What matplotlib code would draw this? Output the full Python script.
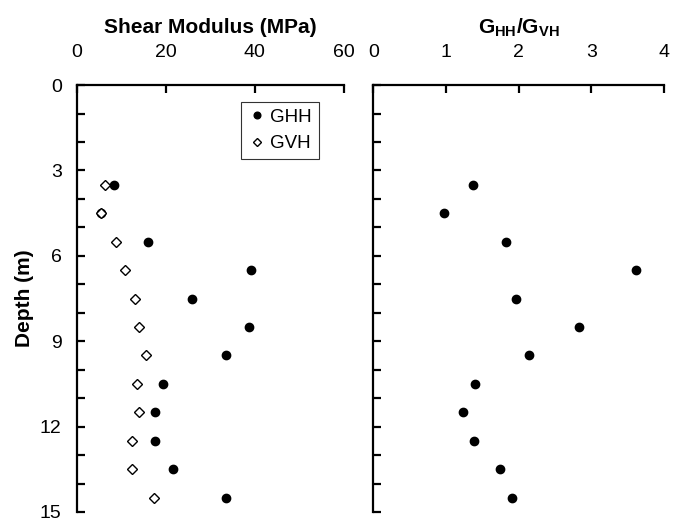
import matplotlib.pyplot as plt
from matplotlib.ticker import MultipleLocator

plt.rcParams['font.family'] = ['Liberation Sans', 'DejaVu Sans']
plt.rcParams['mathtext.fontset'] = 'custom'
plt.rcParams['mathtext.bf'] = 'Liberation Sans:bold'
plt.rcParams['mathtext.rm'] = 'Liberation Sans'

# depth of each test (m)
depth = [3.5, 4.5, 5.5, 6.5, 7.5, 8.5, 9.5, 10.5, 11.5, 12.5, 13.5, 14.5]
# shear moduli (MPa)
ghh = [8.3, 5.5, 15.9, 39.2, 25.8, 38.7, 33.4, 19.3, 17.5, 17.5, 21.5, 33.4]
gvh = [6.3, 5.3, 8.8, 10.9, 13.0, 13.9, 15.5, 13.6, 13.9, 12.4, 12.4, 17.4]
# anisotropy ratio
ratio = [1.37, 0.97, 1.83, 3.61, 1.97, 2.83, 2.15, 1.40, 1.24, 1.38, 1.75, 1.91]

fig = plt.figure(figsize=(6.81, 5.20), dpi=100)
ax1 = fig.add_axes([0.113, 0.0154, 0.392, 0.821])
ax2 = fig.add_axes([0.548, 0.0154, 0.427, 0.821])

def style(ax, xmax, xstep):
    ax.set_ylim(15, 0)
    ax.set_xlim(0, xmax)
    ax.xaxis.set_major_locator(MultipleLocator(xstep))
    ax.yaxis.set_major_locator(MultipleLocator(3))
    ax.yaxis.set_minor_locator(MultipleLocator(1))
    ax.xaxis.tick_top()
    ax.xaxis.set_label_position('top')
    for s in ['right', 'bottom']:
        ax.spines[s].set_visible(False)
    for s in ['left', 'top']:
        ax.spines[s].set_linewidth(1.6)
    ax.tick_params(which='both', direction='in', length=6, width=1.6,
                   labelsize=14)
    ax.tick_params(axis='y', which='both', right=False, pad=11)
    ax.tick_params(axis='x', which='both', bottom=False, pad=17)

style(ax1, 60, 20)
style(ax2, 4, 1)
ax2.tick_params(axis='y', labelleft=False)

ax1.plot(ghh, depth, 'o', color='black', markersize=6, label='GHH')
ax1.plot(gvh, depth, 'D', markerfacecolor='white', markeredgecolor='black',
         markeredgewidth=1, markersize=5, label='GVH')
ax2.plot(ratio, depth, 'o', color='black', markersize=6)

ax1.set_xlabel('Shear Modulus (MPa)', fontsize=15, fontweight='bold', labelpad=8)
ax2.set_xlabel(r'$\mathbf{G_{HH}/G_{VH}}$', fontsize=15, labelpad=8)
ax1.set_ylabel('Depth (m)', fontsize=15, fontweight='bold', labelpad=4)

leg = ax1.legend(loc='upper right', bbox_to_anchor=(0.905, 0.96), fontsize=13.5,
                 frameon=True, fancybox=False, handletextpad=0.2,
                 handlelength=1.0, borderpad=0.35, labelspacing=0.5,
                 markerscale=0.8, borderaxespad=0)
leg.get_frame().set_edgecolor('black')
leg.get_frame().set_linewidth(0.8)

plt.savefig('out.png', dpi=100)
